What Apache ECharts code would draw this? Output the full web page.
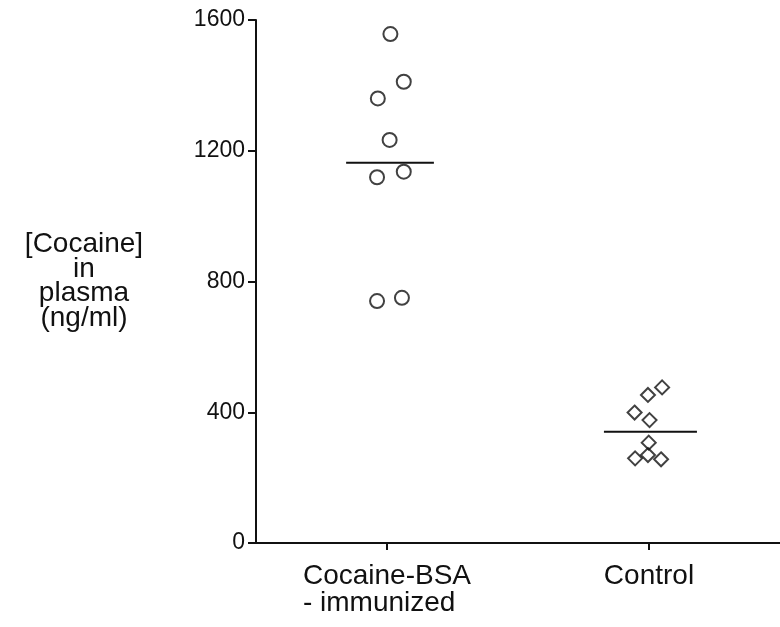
<!DOCTYPE html>
<html>
<head>
<meta charset="utf-8">
<script src="https://cdn.jsdelivr.net/npm/echarts@6/dist/echarts.min.js"></script>
<style>
  html, body { margin: 0; padding: 0; background: #fff; }
  #chart { width: 780px; height: 627px; }
</style>
</head>
<body>
<div id="chart"></div>
<script>
// Group labels along the x axis (first line, second line)
const groups = [['Cocaine-BSA', '- immunized'], ['Control']];

// Plasma cocaine (ng/ml) for each animal, with its horizontal scatter offset within the group
const immunizedX = [1.013, 1.064, 0.965, 1.010, 1.064, 0.962, 0.962, 1.057];
const immunizedY = [1557, 1411, 1360, 1233, 1136, 1119, 740, 750];
const controlX = [2.050, 1.996, 1.945, 2.002, 1.999, 1.947, 1.996, 2.046];
const controlY = [476, 453, 399, 376, 307, 259, 269, 256];

// Group means, drawn as horizontal bars
const meanValues = [1163, 340];
const meanSpan = [[0.844, 1.179], [1.828, 2.183]];

const pairs = (xs, ys) => xs.map((x, i) => [x, ys[i]]);
const ink = '#111';
const face = 'Liberation Sans, Arial, Helvetica, sans-serif';

const chart = echarts.init(document.getElementById('chart'));
chart.setOption({
  animation: false,
  backgroundColor: '#fff',
  grid: { left: 256, right: 0, top: 20, bottom: 84, containLabel: false },
  xAxis: {
    type: 'value',
    min: 0.5,
    max: 2.5,
    splitLine: { show: false },
    axisLine: { show: true, onZero: false, lineStyle: { color: ink, width: 2 } },
    axisTick: { show: true, customValues: [1, 2], length: 7, lineStyle: { color: ink, width: 2 } },
    axisLabel: {
      customValues: [1, 2],
      // lines of one group share a left edge; the block is centred on its tick
      formatter: v => groups[Math.round(v) - 1].map(s => '{g|' + s + '}').join('\n'),
      align: 'center',
      margin: 20,
      rich: {
        g: {
          color: ink,
          fontFamily: face,
          fontSize: 28,
          lineHeight: 27,
          align: 'left'
        }
      }
    }
  },
  yAxis: {
    type: 'value',
    min: 0,
    max: 1600,
    interval: 400,
    splitLine: { show: false },
    axisLine: { show: true, lineStyle: { color: ink, width: 2 } },
    axisTick: { show: true, length: 8, lineStyle: { color: ink, width: 2 } },
    axisLabel: {
      formatter: v => String(v),
      color: ink,
      fontFamily: face,
      fontSize: 23,
      margin: 11
    },
    name: '[Cocaine]\nin\nplasma\n(ng/ml)',
    nameLocation: 'middle',
    nameRotate: 0,
    nameGap: 172,
    nameTextStyle: {
      color: ink,
      fontFamily: face,
      fontSize: 28,
      lineHeight: 24.5,
      align: 'center',
      verticalAlign: 'middle',
      padding: [0, 0, 8, 0]
    }
  },
  series: [
    {
      type: 'scatter',
      data: pairs(immunizedX, immunizedY),
      symbol: 'circle',
      symbolSize: 14,
      itemStyle: { color: '#fff', borderColor: ink, borderWidth: 2 },
      z: 3
    },
    {
      type: 'scatter',
      data: pairs(controlX, controlY),
      symbol: 'diamond',
      symbolSize: 14,
      itemStyle: { color: 'rgba(255,255,255,0)', borderColor: ink, borderWidth: 2 },
      z: 3
    },
    ...meanValues.map((m, i) => ({
      type: 'line',
      data: [[meanSpan[i][0], m], [meanSpan[i][1], m]],
      symbol: 'none',
      lineStyle: { color: ink, width: 2 },
      z: 2
    }))
  ]
});
</script>
</body>
</html>
